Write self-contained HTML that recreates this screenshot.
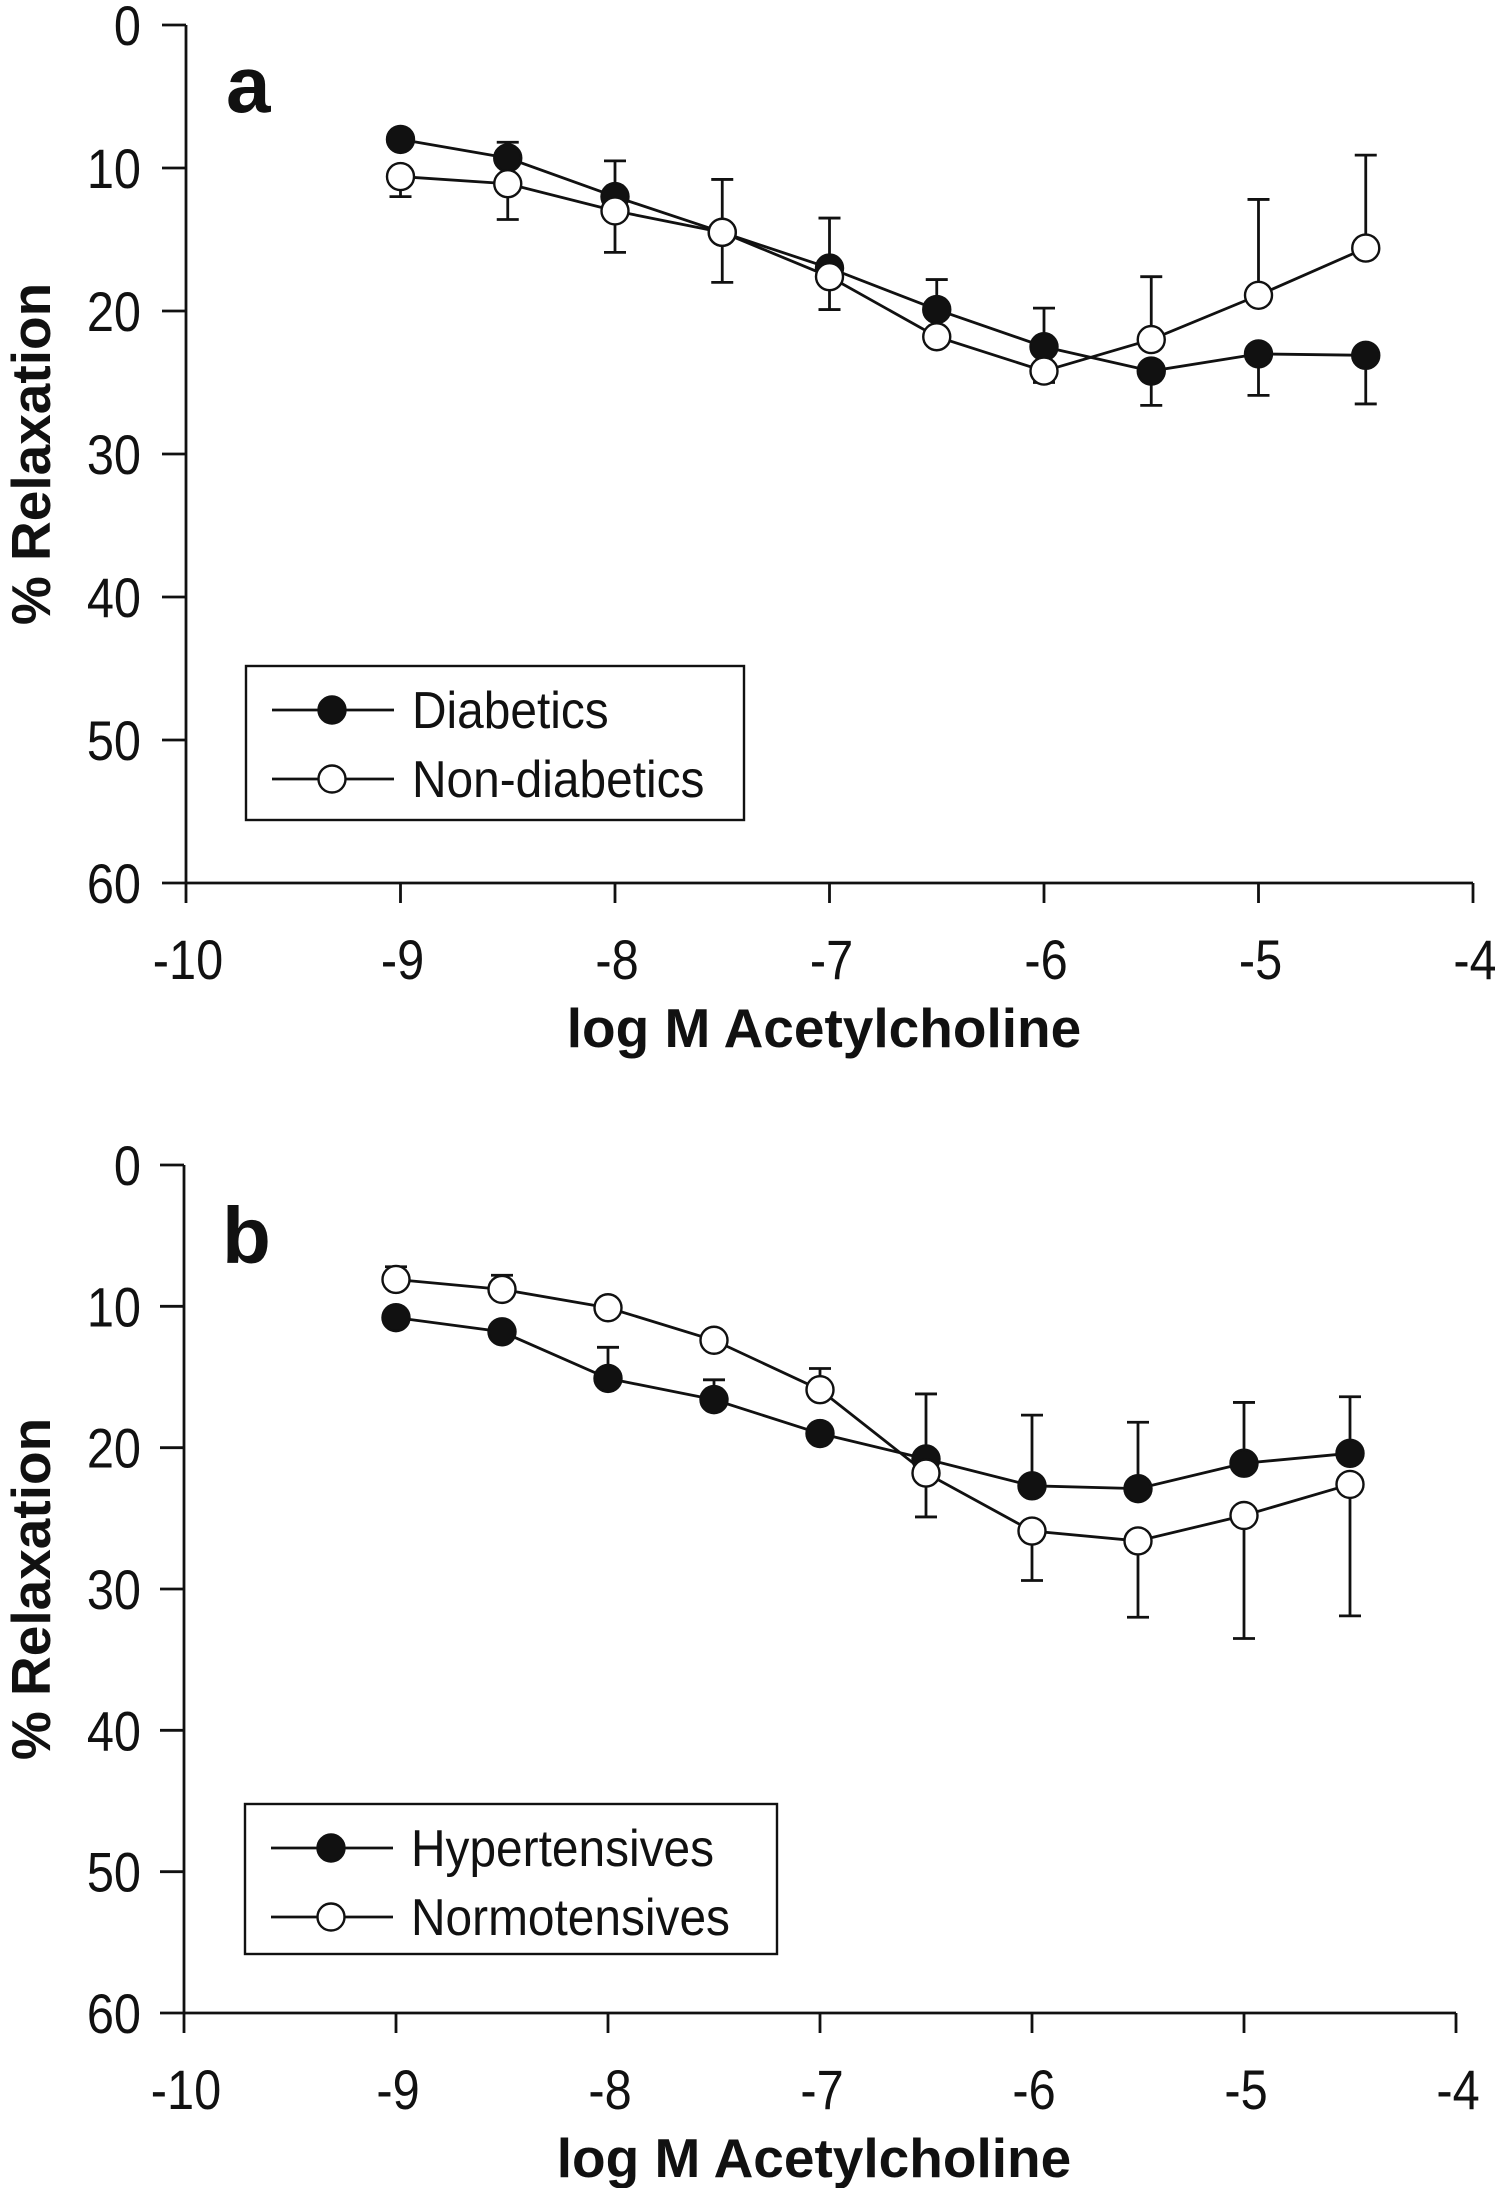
<!DOCTYPE html>
<html><head><meta charset="utf-8"><style>
html,body{margin:0;padding:0;background:#fff;}
svg{display:block;}
text{font-family:"Liberation Sans Narrow","Liberation Sans",sans-serif;fill:#111;}
.bold{font-family:"Liberation Sans",sans-serif;font-weight:bold;}
</style></head><body>
<svg id="chart" width="1495" height="2188" viewBox="0 0 1495 2188" xmlns="http://www.w3.org/2000/svg"></svg>
<script>
const xCategories = [-9, -8.5, -8, -7.5, -7, -6.5, -6, -5.5, -5, -4.5];
const xTickValues = [-10, -9, -8, -7, -6, -5, -4];
const yTickValues = [0, 10, 20, 30, 40, 50, 60];
// panel a
const diabetics = [8, 9.3, 12, 14.5, 17, 19.9, 22.5, 24.2, 23, 23.1];
const diabeticsErrEnd = [null, 8.2, 9.5, 10.8, 13.5, 17.8, 19.8, 26.6, 25.9, 26.5];
const nonDiabetics = [10.6, 11.1, 13, 14.5, 17.6, 21.8, 24.2, 22, 18.9, 15.6];
const nonDiabeticsErrEnd = [12, 13.6, 15.9, 18, 19.9, 22, 25, 17.6, 12.2, 9.1];
// panel b
const hypertensives = [10.8, 11.8, 15.1, 16.6, 19, 20.8, 22.7, 22.9, 21.1, 20.4];
const hypertensivesErrEnd = [null, null, 12.9, 15.2, null, 16.2, 17.7, 18.2, 16.8, 16.4];
const normotensives = [8.1, 8.8, 10.1, 12.4, 15.9, 21.8, 25.9, 26.6, 24.8, 22.6];
const normotensivesErrEnd = [7.2, 7.8, 10.6, 11.9, 14.4, 24.9, 29.4, 32, 33.5, 31.9];

const NS = "http://www.w3.org/2000/svg";
const svg = document.getElementById("chart");
function mk(tag, attrs, parent) {
  const e = document.createElementNS(NS, tag);
  for (const k in attrs) e.setAttribute(k, attrs[k]);
  (parent || svg).appendChild(e);
  return e;
}
function ntext(x, y, str, size, sx, anchor, parent) {
  const t = mk("text", {x: 0, y: 0, "font-size": size, "text-anchor": anchor,
    transform: `translate(${x},${y}) scale(${sx},1)`}, parent);
  t.textContent = str;
  return t;
}

function panel(cfg) {
  const g = mk("g", {});
  
  
  const xs = v => cfg.x0 + (v - (-10)) / 6 * (cfg.x1 - cfg.x0);
  const ys = v => cfg.y0 + v / 60 * (cfg.y1 - cfg.y0);
  const st = {stroke: "#111", "stroke-width": 2.8, fill: "none"};
  const ya = mk("line", Object.assign({x1: cfg.x0, y1: cfg.y0, x2: cfg.x0, y2: cfg.y1}, st), g);
  
  
  const xa = mk("line", Object.assign({x1: cfg.x0, y1: cfg.y1, x2: cfg.x1, y2: cfg.y1}, st), g);
  
  
  yTickValues.forEach(v => {
    mk("line", Object.assign({x1: cfg.x0 - 24, y1: ys(v), x2: cfg.x0, y2: ys(v)}, st), g);
    const t = ntext(141, ys(v) + 20, String(v), 56, 0.87, "end", g);
    
    
  });
  xTickValues.forEach(v => {
    mk("line", Object.assign({x1: xs(v), y1: cfg.y1, x2: xs(v), y2: cfg.y1 + 20}, st), g);
    const t = ntext(xs(v) + 2, cfg.y1 + 96, String(v), 56, 0.87, "middle", g);
    
    
  });
  const yt = mk("text", {x: 0, y: 0, "text-anchor": "middle", "font-size": 55, class: "bold",
    transform: `translate(50,${(cfg.y0 + cfg.y1) / 2}) rotate(-90)`}, g);
  yt.textContent = "% Relaxation";
  
  
  const xt = mk("text", {x: cfg.xtx, y: cfg.y1 + 164, "text-anchor": "middle", "font-size": 55, class: "bold"}, g);
  xt.textContent = "log M Acetylcholine";
  
  
  const pl = mk("text", {x: cfg.lx, y: cfg.ly, "font-size": 80, class: "bold"}, g);
  pl.textContent = cfg.letter;
  
  
  cfg.series.forEach(s => {
    const sg = mk("g", {}, g);
    
    
    s.err.forEach((e, i) => {
      if (e === null) return;
      const x = xs(xCategories[i]);
      mk("line", Object.assign({x1: x, y1: ys(s.vals[i]), x2: x, y2: ys(e)}, st), sg);
      const cap = mk("line", Object.assign({x1: x - 11, y1: ys(e), x2: x + 11, y2: ys(e)}, st), sg);
      
      
    });
    const pts = s.vals.map((v, i) => xs(xCategories[i]) + "," + ys(v)).join(" ");
    const pl2 = mk("polyline", Object.assign({points: pts}, st), sg);
    
    
  });
  cfg.series.forEach(s => {
    s.vals.forEach((v, i) => {
      const c = mk("circle", {cx: xs(xCategories[i]), cy: ys(v), r: 13.5, fill: s.filled ? "#111" : "#fff", stroke: "#111", "stroke-width": 2.4}, g);
      
      
    });
  });
  const L = cfg.legend;
  const lg = mk("g", {}, g);
  
  
  mk("rect", {x: L.x, y: L.y, width: L.w, height: L.h, fill: "#fff", stroke: "#111", "stroke-width": 2.4}, lg);
  cfg.series.forEach((s, k) => {
    const yy = L.y + 44 + k * 69;
    const le = mk("g", {}, lg);
    
    
    mk("line", Object.assign({x1: L.x + 26, y1: yy, x2: L.x + 148, y2: yy}, st), le);
    mk("circle", {cx: L.x + 86, cy: yy, r: 13.5, fill: s.filled ? "#111" : "#fff", stroke: "#111", "stroke-width": 2.4}, le);
    ntext(L.x + 166, yy + 18, s.label, 52, 0.92, "start", le);
  });
}

panel({name: "panel-a", letter: "a", x0: 186, x1: 1473, y0: 25, y1: 883, xtx: 824, lx: 226, ly: 112,
  legend: {x: 246, y: 666, w: 498, h: 154},
  series: [
    {key: "diabetics", label: "Diabetics", vals: diabetics, err: diabeticsErrEnd, filled: true},
    {key: "non-diabetics", label: "Non-diabetics", vals: nonDiabetics, err: nonDiabeticsErrEnd, filled: false}
  ]});
panel({name: "panel-b", letter: "b", x0: 184, x1: 1456, y0: 1165, y1: 2013, xtx: 814, lx: 222, ly: 1263,
  legend: {x: 245, y: 1804, w: 532, h: 150},
  series: [
    {key: "hypertensives", label: "Hypertensives", vals: hypertensives, err: hypertensivesErrEnd, filled: true},
    {key: "normotensives", label: "Normotensives", vals: normotensives, err: normotensivesErrEnd, filled: false}
  ]});
</script>
</body></html>
